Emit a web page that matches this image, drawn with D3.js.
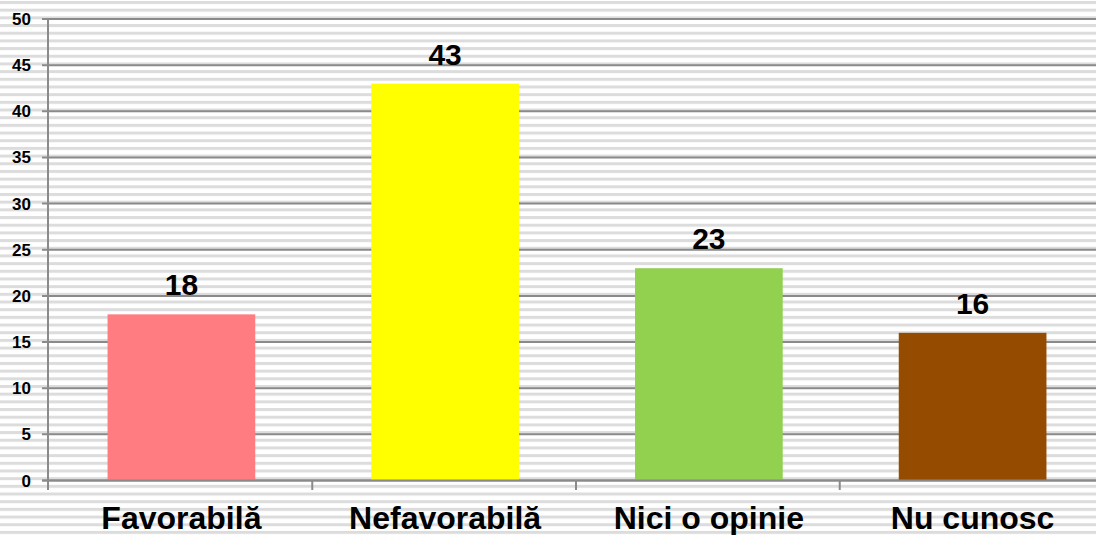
<!DOCTYPE html>
<html>
<head>
<meta charset="utf-8">
<script src="https://cdn.jsdelivr.net/npm/d3@7"></script>
<style>
body { margin: 0; background: #fff; }
svg { display: block; font-family: "Liberation Sans", Arial, sans-serif; }
</style>
</head>
<body>
<div id="chart"></div>
<script>
// chart data
var categories = ["Favorabilă", "Nefavorabilă", "Nici o opinie", "Nu cunosc"];
var values = [18, 43, 23, 16];
var barColors = ["#FF7C80", "#FFFF00", "#92D050", "#954B00"];
var yTicks = [0, 5, 10, 15, 20, 25, 30, 35, 40, 45, 50];

var width = 1096, height = 535;

var svg = d3.select("#chart").append("svg")
	.attr("width", width)
	.attr("height", height);

// striped background
var defs = svg.append("defs");
var pat = defs.append("pattern")
	.attr("id", "stripes")
	.attr("patternUnits", "userSpaceOnUse")
	.attr("width", 10)
	.attr("height", 7.68)
	.attr("y", 1);
pat.append("rect").attr("width", 10).attr("height", 7.68).attr("fill", "#fff");
pat.append("rect").attr("width", 10).attr("height", 3).attr("fill", "#dcdcdc");

svg.append("rect")
	.attr("width", width)
	.attr("height", height)
	.attr("fill", "url(#stripes)");

var x0 = 48;
var x = d3.scaleBand()
	.domain(categories)
	.range([x0, x0 + 4 * 264])
	.paddingInner(0.44)
	.paddingOuter(0.222);

var y = d3.scaleLinear()
	.domain([0, 50])
	.range([480.5, 19]);

// grid lines
svg.append("g")
	.selectAll("line")
	.data(yTicks)
	.enter().append("line")
	.attr("x1", 42)
	.attr("x2", width)
	.attr("y1", function(d) { return y(d); })
	.attr("y2", function(d) { return y(d); })
	.attr("stroke", "#8a8a8a")
	.attr("stroke-width", 2);

// y labels
svg.append("g")
	.selectAll("text")
	.data(yTicks)
	.enter().append("text")
	.attr("x", 31)
	.attr("y", function(d) { return y(d) + 6; })
	.attr("text-anchor", "end")
	.attr("font-size", 17)
	.attr("font-weight", "bold")
	.text(function(d) { return d; });

// bars
svg.append("g")
	.selectAll("rect")
	.data(values)
	.enter().append("rect")
	.attr("x", function(d, i) { return x(categories[i]) + 1; })
	.attr("width", x.bandwidth())
	.attr("y", function(d) { return y(d); })
	.attr("height", function(d) { return y(0) - y(d); })
	.attr("fill", function(d, i) { return barColors[i]; });

// axis lines
svg.append("line")
	.attr("x1", x0).attr("x2", x0)
	.attr("y1", y(50)).attr("y2", 490)
	.attr("stroke", "#8a8a8a").attr("stroke-width", 2);
svg.append("line")
	.attr("x1", 42).attr("x2", width)
	.attr("y1", y(0)).attr("y2", y(0))
	.attr("stroke", "#8a8a8a").attr("stroke-width", 2);

// category ticks
svg.append("g")
	.selectAll("line")
	.data(categories.slice(1))
	.enter().append("line")
	.attr("x1", function(d) { return x(d) - x.step() * x.paddingInner() / 2; })
	.attr("x2", function(d) { return x(d) - x.step() * x.paddingInner() / 2; })
	.attr("y1", y(0))
	.attr("y2", 490)
	.attr("stroke", "#8a8a8a").attr("stroke-width", 2);

// value labels
svg.append("g")
	.selectAll("text")
	.data(values)
	.enter().append("text")
	.attr("x", function(d, i) { return x(categories[i]) + 1 + x.bandwidth() / 2; })
	.attr("y", function(d) { return y(d) - 19; })
	.attr("text-anchor", "middle")
	.attr("font-size", 30)
	.attr("font-weight", "bold")
	.text(function(d) { return d; });

// category labels
svg.append("g")
	.selectAll("text")
	.data(categories)
	.enter().append("text")
	.attr("x", function(d) { return x(d) + 1 + x.bandwidth() / 2; })
	.attr("y", 529)
	.attr("text-anchor", "middle")
	.attr("font-size", 32)
	.attr("font-weight", "bold")
	.text(function(d) { return d; });
</script>
</body>
</html>
